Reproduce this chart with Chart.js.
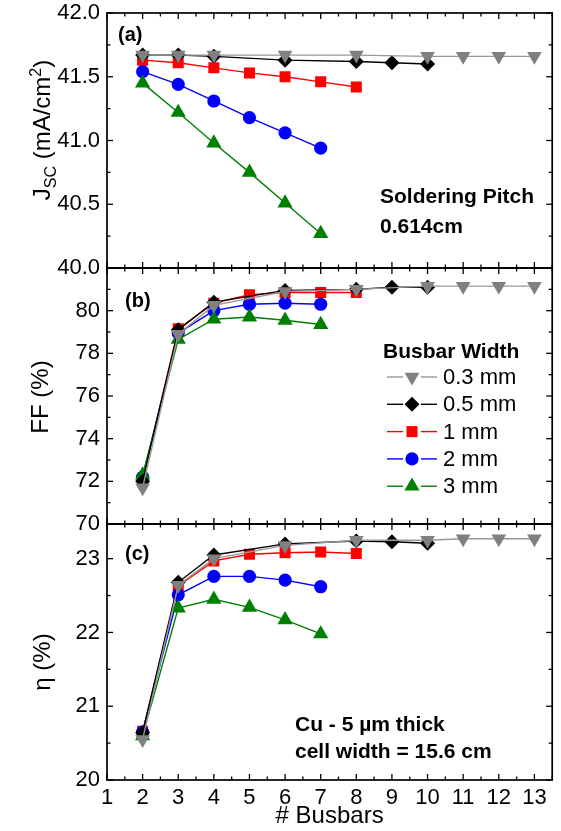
<!DOCTYPE html>
<html lang="en">
<head>
    <meta charset="UTF-8">
    <title>Busbars</title>
    <script src="https://cdn.jsdelivr.net/npm/chart.js"></script>
    <style>
        body { margin: 0; background: #fff; }
        #wrap { position: relative; width: 561px; height: 831px; font-family: "Liberation Sans", Arial, sans-serif; color: #000; }
        canvas { position: absolute; left: 0; top: 0; }
        .txt { position: absolute; line-height: 1; white-space: nowrap; transform: translateY(-50%); }
        .b { font-weight: bold; font-size: 21px; }
        .lab { font-weight: bold; font-size: 20px; }
        .leg { font-size: 22px; }
        .ytitle { position: absolute; font-size: 24px; line-height: 1; white-space: nowrap; transform: translate(-50%, -50%) rotate(-90deg); }
        .ytitle sub, .ytitle sup { font-size: 16px; line-height: 0; }
    </style>
</head>
<body>
<div id="wrap">
    <canvas id="panelA" width="561" height="831"></canvas>
    <canvas id="panelB" width="561" height="831"></canvas>
    <canvas id="panelC" width="561" height="831"></canvas>

    <!-- axis titles -->
    <div class="ytitle" style="left:42px; top:130px;">J<sub>SC</sub> (mA/cm<sup>2</sup>)</div>
    <div class="ytitle" style="left:40px; top:397px;">FF (%)</div>
    <div class="ytitle" style="left:42px; top:662px;">&eta; (%)</div>

    <!-- panel labels and notes -->
    <div class="txt lab" style="left:118px; top:34px;">(a)</div>
    <div class="txt lab" style="left:125px; top:300px;">(b)</div>
    <div class="txt lab" style="left:125px; top:553px;">(c)</div>
    <div class="txt b" style="left:380px; top:195px;">Soldering Pitch</div>
    <div class="txt b" style="left:380px; top:225px;">0.614cm</div>
    <div class="txt b" style="left:295px; top:723px;">Cu - 5 &micro;m thick</div>
    <div class="txt b" style="left:295px; top:750px;">cell width = 15.6 cm</div>

    <!-- legend text -->
    <div class="txt b" style="left:383px; top:350px;">Busbar Width</div>
    <div class="txt leg" style="left:443px; top:377px;">0.3 mm</div>
    <div class="txt leg" style="left:443px; top:404px;">0.5 mm</div>
    <div class="txt leg" style="left:443px; top:432px;">1 mm</div>
    <div class="txt leg" style="left:443px; top:459px;">2 mm</div>
    <div class="txt leg" style="left:443px; top:486px;">3 mm</div>
</div>

<script>
    // number of busbars for each busbar width
    const busbars03 = [2, 3, 4, 6, 8, 10, 11, 12, 13];
    const busbars05 = [2, 3, 4, 6, 8, 9, 10];
    const busbars1 = [2, 3, 4, 5, 6, 7, 8];
    const busbars2 = [2, 3, 4, 5, 6, 7];
    const busbars3 = [2, 3, 4, 5, 6, 7];

    // (a) Jsc, mA/cm2
    const jsc03 = [41.67, 41.67, 41.67, 41.67, 41.67, 41.66, 41.66, 41.66, 41.66];
    const jsc05 = [41.67, 41.67, 41.66, 41.63, 41.62, 41.61, 41.60];
    const jsc1 = [41.63, 41.61, 41.57, 41.53, 41.50, 41.46, 41.42];
    const jsc2 = [41.54, 41.44, 41.31, 41.18, 41.06, 40.94];
    const jsc3 = [41.45, 41.22, 40.98, 40.75, 40.51, 40.27];

    // (b) FF, %
    const ff03 = [71.7, 78.9, 80.25, 80.9, 81.0, 81.15, 81.15, 81.15, 81.15];
    const ff05 = [72.0, 79.1, 80.4, 80.95, 81.0, 81.1, 81.1];
    const ff1 = [72.1, 79.15, 80.35, 80.75, 80.85, 80.85, 80.85];
    const ff2 = [72.2, 78.95, 80.0, 80.3, 80.35, 80.3];
    const ff3 = [72.3, 78.65, 79.6, 79.7, 79.55, 79.35];

    // (c) efficiency, %
    const eta03 = [20.55, 22.64, 23.0, 23.18, 23.25, 23.25, 23.27, 23.27, 23.27];
    const eta05 = [20.64, 22.68, 23.05, 23.2, 23.24, 23.23, 23.21];
    const eta1 = [20.66, 22.63, 22.97, 23.06, 23.08, 23.09, 23.07];
    const eta2 = [20.65, 22.51, 22.76, 22.76, 22.71, 22.62];
    const eta3 = [20.6, 22.33, 22.45, 22.34, 22.17, 21.98];

    // tick labels
    const busbarTicks = [1, 2, 3, 4, 5, 6, 7, 8, 9, 10, 11, 12, 13];
    const jscTicks = [40.0, 40.5, 41.0, 41.5, 42.0];
    const ffTicks = [70, 72, 74, 76, 78, 80];
    const etaTicks = [20, 21, 22, 23];

    const widthLabels = ["0.3 mm", "0.5 mm", "1 mm", "2 mm", "3 mm"];

    // drawing order: first dataset ends up on top
    const looks = {
        "0.3 mm": { color: "#808080", line: "#999999", style: "triangle", rot: 180, r: 8.5 },
        "0.5 mm": { color: "#000000", line: "#000000", style: "rectRot", rot: 0, r: 7.5 },
        "3 mm":   { color: "#008000", line: "#008000", style: "triangle", rot: 0, r: 8.8 },
        "2 mm":   { color: "#0000ff", line: "#0000ff", style: "circle", rot: 0, r: 6.6 },
        "1 mm":   { color: "#ff0000", line: "#ff0000", style: "rect", rot: 0, r: 7.8 }
    };

    function drawMarker(ctx, lk, x, y) {
        const r = lk.r;
        ctx.fillStyle = lk.color;
        ctx.beginPath();
        if (lk.style === "circle") {
            ctx.arc(x, y, r, 0, Math.PI * 2);
        } else if (lk.style === "rect") {
            const s = r * Math.SQRT1_2;
            ctx.rect(x - s, y - s, 2 * s, 2 * s);
        } else if (lk.style === "rectRot") {
            ctx.moveTo(x, y - r); ctx.lineTo(x + r, y); ctx.lineTo(x, y + r); ctx.lineTo(x - r, y);
        } else {
            let a = lk.rot * Math.PI / 180;
            ctx.moveTo(x + Math.sin(a) * r, y - Math.cos(a) * r);
            for (let k = 0; k < 2; k++) {
                a += Math.PI * 2 / 3;
                ctx.lineTo(x + Math.sin(a) * r, y - Math.cos(a) * r);
            }
        }
        ctx.closePath();
        ctx.fill();
    }

    // box with inward ticks on all four sides
    const panelFrame = {
        id: "panelFrame",
        afterDraw(chart, args, opts) {
            const ctx = chart.ctx, a = chart.chartArea;
            const xs = chart.scales.x, ys = chart.scales.y;
            const major = 6, minor = 3.5;
            ctx.save();
            ctx.strokeStyle = "#000";
            ctx.lineWidth = 1.3;
            const seg = (x1, y1, x2, y2) => { ctx.beginPath(); ctx.moveTo(x1, y1); ctx.lineTo(x2, y2); ctx.stroke(); };
            for (let v = ys.min; v <= ys.max + 1e-9; v += opts.yMinor) {
                const y = ys.getPixelForValue(v);
                const isMajor = Math.abs(Math.round((v - ys.min) / opts.yMajor) * opts.yMajor - (v - ys.min)) < 1e-6;
                const len = isMajor ? major : minor;
                seg(a.left, y, a.left + len, y);
                seg(a.right, y, a.right - len, y);
            }
            for (let v = 1; v <= xs.max + 1e-9; v += 0.5) {
                const x = xs.getPixelForValue(v);
                const len = Number.isInteger(v) ? major : minor;
                seg(x, a.top, x, a.top + len);
                seg(x, a.bottom, x, a.bottom - len);
            }
            ctx.lineWidth = 1.7;
            ctx.strokeRect(a.left, a.top, a.right - a.left, a.bottom - a.top);

            if (opts.legend) {
                let y = 377;
                widthLabels.forEach(lab => {
                    const lk = looks[lab];
                    ctx.strokeStyle = lk.line;
                    ctx.lineWidth = 1.4;
                    seg(387, y, 403, y);
                    seg(421, y, 437, y);
                    drawMarker(ctx, lk, 412, y);
                    y += 27.3;
                });
            }
            ctx.restore();
        }
    };

    function makePanel(canvasId, values, yMin, yMax, yTicks, yMajor, yMinor, fmt, padTop, padBottom, showX, legend) {
        const xs = { "0.3 mm": busbars03, "0.5 mm": busbars05, "1 mm": busbars1, "2 mm": busbars2, "3 mm": busbars3 };
        const datasets = Object.keys(looks).map(lab => {
            const lk = looks[lab];
            return {
                label: lab,
                data: xs[lab].map((x, i) => ({ x: x, y: values[lab][i] })),
                borderColor: lk.line,
                backgroundColor: lk.color,
                borderWidth: 1.4,
                pointStyle: lk.style,
                pointRotation: lk.rot,
                pointRadius: lk.r,
                pointBorderWidth: 0,
                pointBackgroundColor: lk.color,
                tension: 0
            };
        });
        return new Chart(document.getElementById(canvasId), {
            type: "line",
            data: { datasets: datasets },
            options: {
                responsive: false,
                animation: false,
                events: [],
                layout: { padding: { top: padTop, bottom: padBottom, left: 0, right: 8 } },
                plugins: {
                    legend: { display: false },
                    tooltip: { enabled: false },
                    panelFrame: { yMajor: yMajor, yMinor: yMinor, legend: legend }
                },
                scales: {
                    x: {
                        type: "linear", min: 1, max: 13.5, display: showX,
                        afterBuildTicks: s => { s.ticks = busbarTicks.map(v => ({ value: v })); },
                        afterFit: s => { s.height = showX ? 51 : 0; s.paddingLeft = 0; s.paddingRight = 0; },
                        grid: { display: false, drawTicks: false },
                        border: { display: false },
                        ticks: { padding: 5, color: "#000", font: { size: 22, family: "Liberation Sans" } },
                        title: { display: true, text: "# Busbars", color: "#000", font: { size: 24, family: "Liberation Sans" }, padding: { top: 0, bottom: 0 } }
                    },
                    y: {
                        type: "linear", min: yMin, max: yMax,
                        afterBuildTicks: s => { s.ticks = yTicks.map(v => ({ value: v })); },
                        afterFit: s => { s.width = 107; s.paddingTop = 0; s.paddingBottom = 0; },
                        grid: { display: false, drawTicks: false },
                        border: { display: false },
                        ticks: { padding: 7, color: "#000", font: { size: 22, family: "Liberation Sans" }, callback: v => fmt(v) }
                    }
                }
            },
            plugins: [panelFrame]
        });
    }

    makePanel("panelA",
        { "0.3 mm": jsc03, "0.5 mm": jsc05, "1 mm": jsc1, "2 mm": jsc2, "3 mm": jsc3 },
        40, 42, jscTicks, 0.5, 0.25, v => v.toFixed(1), 13, 831 - 268, false, false);

    makePanel("panelB",
        { "0.3 mm": ff03, "0.5 mm": ff05, "1 mm": ff1, "2 mm": ff2, "3 mm": ff3 },
        70, 82, ffTicks, 2, 1, v => String(v), 268, 831 - 524, false, true);

    makePanel("panelC",
        { "0.3 mm": eta03, "0.5 mm": eta05, "1 mm": eta1, "2 mm": eta2, "3 mm": eta3 },
        20, 23.47, etaTicks, 1, 0.5, v => String(v), 524, 0, true, false);
</script>
</body>
</html>
